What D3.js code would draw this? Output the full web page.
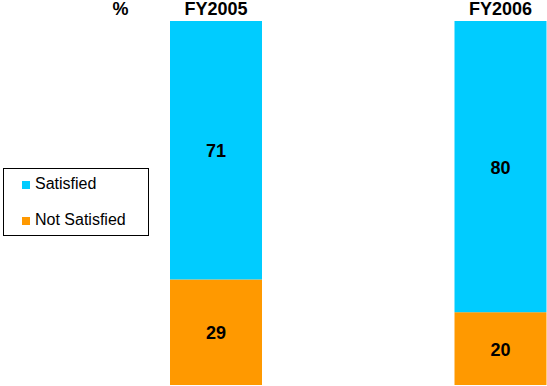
<!DOCTYPE html>
<html>
<head>
<meta charset="utf-8">
<script src="https://cdn.jsdelivr.net/npm/d3@7"></script>
<style>
  body { margin: 0; background: #fff; }
  text { font-family: "Liberation Sans", Arial, sans-serif; }
</style>
</head>
<body>
<script>
var width = 547,
    height = 386;

// data
var years = ["FY2005", "FY2006"];
var satisfied = [71, 80];
var notSatisfied = [29, 20];
var seriesNames = ["Satisfied", "Not Satisfied"];
var colors = ["#00ccff", "#ff9900"];

var svg = d3.select("body").append("svg")
    .attr("width", width)
    .attr("height", height);

var x = d3.scalePoint()
    .domain(years)
    .range([216, 500.5]);

var barW = 92;

var y = d3.scaleLinear()
    .domain([0, 100])
    .range([385, 21]);

var rows = years.map(function(yr, i) {
  return {year: yr, sat: satisfied[i], not: notSatisfied[i]};
});

var g = svg.append("g");

// Not Satisfied at the bottom
g.selectAll("rect.not")
    .data(rows)
    .enter().append("rect")
    .attr("class", "not")
    .attr("x", function(d) { return x(d.year) - barW / 2; })
    .attr("y", function(d) { return y(d.not); })
    .attr("width", barW)
    .attr("height", function(d) { return y(0) - y(d.not); })
    .attr("fill", colors[1]);

// Satisfied stacked on top
g.selectAll("rect.sat")
    .data(rows)
    .enter().append("rect")
    .attr("class", "sat")
    .attr("x", function(d) { return x(d.year) - barW / 2; })
    .attr("y", function(d) { return y(d.not + d.sat); })
    .attr("width", barW)
    .attr("height", function(d) { return y(d.not) - y(d.not + d.sat); })
    .attr("fill", colors[0]);

// value labels
g.selectAll("text.lsat")
    .data(rows)
    .enter().append("text")
    .attr("x", function(d) { return x(d.year); })
    .attr("y", function(d) { return (y(d.not) + y(d.not + d.sat)) / 2 + 7; })
    .attr("text-anchor", "middle")
    .attr("font-size", 18)
    .attr("font-weight", "bold")
    .text(function(d) { return d.sat; });

g.selectAll("text.lnot")
    .data(rows)
    .enter().append("text")
    .attr("x", function(d) { return x(d.year); })
    .attr("y", function(d) { return (y(0) + y(d.not)) / 2 + 7; })
    .attr("text-anchor", "middle")
    .attr("font-size", 18)
    .attr("font-weight", "bold")
    .text(function(d) { return d.not; });

// year headers
g.selectAll("text.year")
    .data(years)
    .enter().append("text")
    .attr("x", function(d) { return x(d); })
    .attr("y", 15)
    .attr("text-anchor", "middle")
    .attr("font-size", 18)
    .attr("font-weight", "bold")
    .text(function(d) { return d; });

svg.append("text")
    .attr("x", 120.5)
    .attr("y", 15)
    .attr("text-anchor", "middle")
    .attr("font-size", 18)
    .attr("font-weight", "bold")
    .text("%");

// legend
var legend = svg.append("g");
legend.append("rect")
    .attr("x", 3.5)
    .attr("y", 168.5)
    .attr("width", 145)
    .attr("height", 67)
    .attr("fill", "#fff")
    .attr("stroke", "#000");

var item = legend.selectAll("g.item")
    .data(seriesNames)
    .enter().append("g")
    .attr("transform", function(d, i) { return "translate(22," + (181 + i * 36) + ")"; });

item.append("rect")
    .attr("width", 8)
    .attr("height", 8)
    .attr("fill", function(d, i) { return colors[i]; });

item.append("text")
    .attr("x", 13)
    .attr("y", 8)
    .attr("font-size", 16)
    .text(function(d) { return d; });
</script>
</body>
</html>
